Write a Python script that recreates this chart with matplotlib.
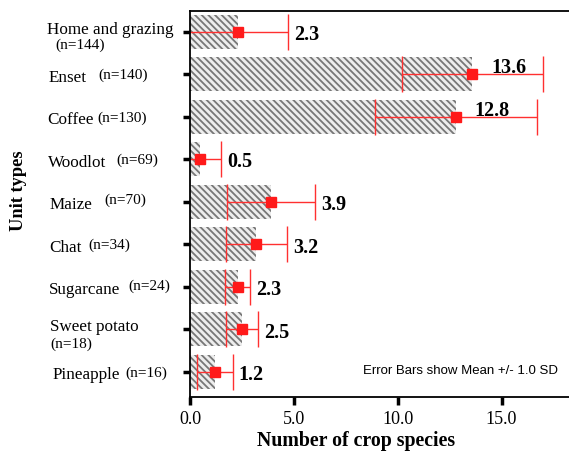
import matplotlib
matplotlib.use('Agg')
from matplotlib import pyplot as plt

units = ['Home and grazing', 'Enset', 'Coffee', 'Woodlot', 'Maize', 'Chat',
         'Sugarcane', 'Sweet potato', 'Pineapple']
counts = ['(n=144)', '(n=140)', '(n=130)', '(n=69)', '(n=70)', '(n=34)',
          '(n=24)', '(n=18)', '(n=16)']
means = [2.3, 13.6, 12.8, 0.5, 3.9, 3.2, 2.3, 2.5, 1.2]
sds = [2.4, 3.4, 3.9, 1.0, 2.1, 1.45, 0.6, 0.75, 0.85]

plt.rcParams['font.family'] = 'Liberation Serif'
plt.rcParams['hatch.linewidth'] = 1.3

fig = plt.figure(figsize=(5.69, 4.56), dpi=100)
ax = fig.add_axes([0.334, 0.127, 0.666, 0.847])

pos = list(range(len(units)))
ax.barh(pos, means, height=0.8, color='#ededed', edgecolor='#777777',
        hatch='\\' * 5, linewidth=0)
ax.errorbar(means, pos, xerr=sds, fmt='s', color='#ff1a1a', ms=6.5,
            ecolor='#ff3030', elinewidth=1, capsize=13, capthick=1)

# value labels
for i, (m, s) in enumerate(zip(means, sds)):
    if m > 10:
        ax.text(m + 0.9, i - 0.17, f'{m:.1f}', fontsize=14.5, fontweight='bold',
                va='center', ha='left')
    else:
        ax.text(m + s + 0.3, i + 0.05, f'{m:.1f}', fontsize=14.5, fontweight='bold',
                va='center', ha='left')

# category labels: pixel x of name / count, and row offsets for two-line ones
ax.set_yticks(pos)
ax.set_yticklabels([])
name_px = [47, 48, 47, 48, 49, 49, 49, 50, 52]
n_px = [55, 98, 97, 116, 104, 88, 128, 50, 125]
name_dy = [-0.06, 0.07, 0.05, 0.07, 0.05, 0.05, 0.05, -0.08, 0.05]
n_dy = [0.3, 0.0, 0.0, 0.0, -0.05, -0.01, -0.03, 0.32, 0.0]
tr = ax.get_yaxis_transform()
for i, (u, c) in enumerate(zip(units, counts)):
    ax.text((name_px[i] - 190) / 379, i + name_dy[i], u, transform=tr,
            fontsize=12.3, va='center', ha='left')
    ax.text((n_px[i] - 190) / 379, i + n_dy[i], c, transform=tr,
            fontsize=11, va='center', ha='left')

ax.set_ylim(8.59, -0.49)
ax.set_xlim(0, 18.25)
ax.set_xticks([0, 5, 10, 15])
ax.set_xticklabels(['0.0', '5.0', '10.0', '15.0'], fontsize=13)
ax.tick_params(axis='both', direction='out', width=2.5, length=6)
ax.tick_params(axis='y', length=5)
ax.spines['right'].set_visible(False)
for sp in ['left', 'bottom', 'top']:
    ax.spines[sp].set_linewidth(1.3)

ax.set_xlabel('Number of crop species', fontsize=14.3, fontweight='bold')
ax.xaxis.set_label_coords(0.438, -0.085)
ax.set_ylabel('Unit types', fontsize=13.2, fontweight='bold')
ax.yaxis.set_label_coords(-0.43, 0.536)

ax.text(0.97, 0.07, 'Error Bars show Mean +/- 1.0 SD', transform=ax.transAxes,
        fontsize=9.5, family='Liberation Sans', ha='right', va='center')

plt.savefig('out.png', dpi=100)
